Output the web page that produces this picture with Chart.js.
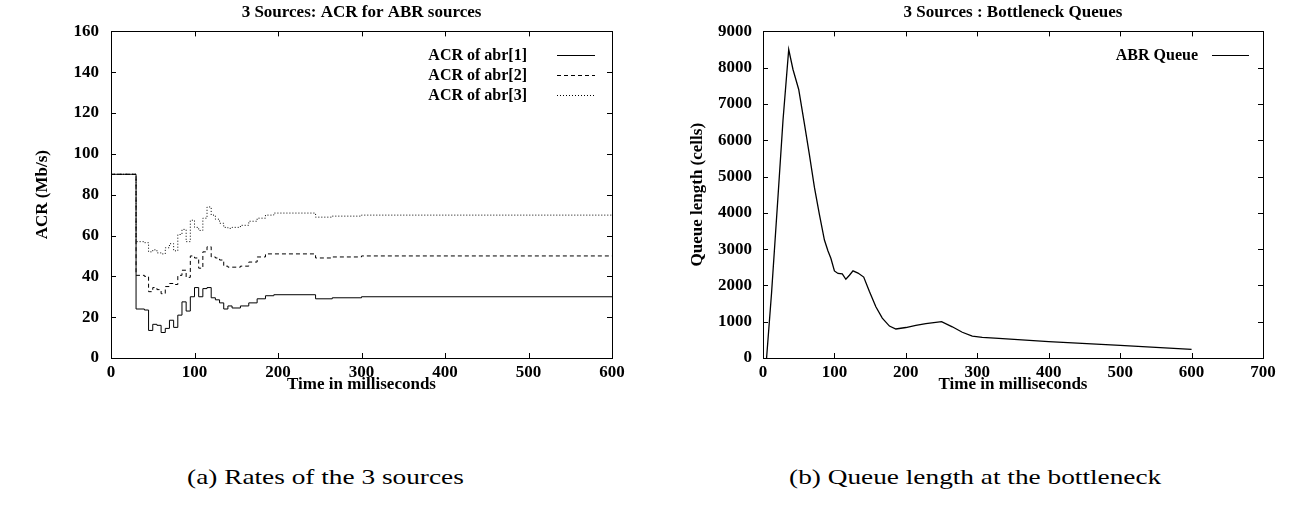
<!DOCTYPE html>
<html>
<head>
<meta charset="utf-8">
<script src="https://cdn.jsdelivr.net/npm/chart.js@4.4.1/dist/chart.umd.min.js"></script>
<style>
  body { margin: 0; background: #fff; width: 1292px; height: 514px; position: relative; overflow: hidden; }
  canvas { position: absolute; top: 0; }
  #acr { left: 0; }
  #queue { left: 646px; }
  .cap { position: absolute; top: 465px; width: 646px; text-align: center; font-family: 'Liberation Serif', serif; font-size: 21px; }
  .cap span { display: inline-block; transform: scaleX(1.3); white-space: nowrap; }
</style>
</head>
<body>
<canvas id="acr" width="646" height="420"></canvas>
<canvas id="queue" width="646" height="420"></canvas>
<div class="cap" style="left:2px"><span>(a) Rates of the 3 sources</span></div>
<div class="cap" style="left:652px"><span>(b) Queue length at the bottleneck</span></div>
<script>
// left chart: ACR of the 3 sources (step plot)
const acrTime = [0, 30, 40, 45, 50, 55, 60, 65, 70, 75, 80, 85, 90, 95, 100, 105, 110, 115, 120, 125, 130, 135, 140, 145, 155, 165, 175, 185, 195, 245, 265, 300, 600];
const acr1 = [90, 24, 23.5, 13.5, 16.5, 16, 12.5, 14.5, 18.5, 15, 21, 27.5, 23, 30, 34.5, 30, 34, 34.5, 29.5, 28.5, 27, 24, 25.5, 24.5, 25.5, 27, 29, 30.5, 31, 29, 29.5, 30, 30];
const acr2 = [90, 40.5, 40, 32.5, 34.5, 33.5, 31.5, 35, 36.5, 36, 40.5, 43, 39.5, 50, 49, 44, 52, 54.5, 49.5, 49, 48, 45, 44.5, 44.5, 45, 47, 49.5, 51, 51, 49, 49.5, 50, 50];
const acr3 = [90, 57, 56.5, 52, 53, 51.5, 51, 54, 56, 52.5, 60.5, 63, 57, 67.5, 64, 62.5, 68.5, 74, 70, 68, 66, 64, 63.5, 64, 65, 67, 68.5, 70, 71, 69, 69.5, 70, 70];
const acrLabels = ['ACR of abr[1]', 'ACR of abr[2]', 'ACR of abr[3]'];

// right chart: bottleneck queue
const qTime = [5, 12, 21, 28, 36, 42, 50, 58, 65, 72, 79, 86, 91, 95, 100, 105, 111, 116, 121, 126, 133, 141, 149, 158, 167, 177, 186, 200, 214, 228, 250, 265, 279, 293, 307, 330, 400, 500, 600];
const qLen = [0, 1800, 4450, 6550, 8500, 7950, 7400, 6450, 5600, 4700, 3950, 3250, 2950, 2750, 2400, 2330, 2320, 2170, 2280, 2400, 2340, 2230, 1830, 1410, 1100, 880, 800, 840, 900, 950, 1000, 860, 710, 600, 570, 540, 450, 350, 240];

const FONT = "'Liberation Serif', 'Times New Roman', serif";
Chart.defaults.font.family = FONT;
Chart.defaults.font.weight = 'bold';
Chart.defaults.color = '#000';
const bold = size => ({family: FONT, size: size, weight: 'bold'});

const pts = (xs, ys) => xs.map((x, i) => ({x: x, y: ys[i]}));

// gnuplot style box with inward ticks on all four sides
const frame = {
  id: 'frame',
  afterDatasetsDraw(chart) {
    const {ctx, chartArea: a, scales} = chart;
    ctx.save();
    ctx.strokeStyle = '#000';
    ctx.lineWidth = 1;
    ctx.strokeRect(Math.round(a.left) + .5, Math.round(a.top) + .5, Math.round(a.width), Math.round(a.height));
    ctx.beginPath();
    scales.x.ticks.forEach((t, i) => {
      const px = Math.round(scales.x.getPixelForTick(i)) + .5;
      ctx.moveTo(px, a.bottom); ctx.lineTo(px, a.bottom - 5);
      ctx.moveTo(px, a.top); ctx.lineTo(px, a.top + 5);
    });
    scales.y.ticks.forEach((t, i) => {
      const py = Math.round(scales.y.getPixelForTick(i)) + .5;
      ctx.moveTo(a.left, py); ctx.lineTo(a.left + 5, py);
      ctx.moveTo(a.right, py); ctx.lineTo(a.right - 5, py);
    });
    ctx.stroke();
    ctx.restore();
  }
};

// key in the top right corner: text right aligned, sample line after it
const gpLegend = {
  id: 'gpLegend',
  afterDraw(chart, args, o) {
    const {ctx, chartArea: a} = chart;
    ctx.save();
    ctx.font = 'bold 16px ' + FONT;
    ctx.textAlign = 'right';
    ctx.textBaseline = 'middle';
    ctx.fillStyle = '#000';
    chart.data.datasets.forEach((ds, i) => {
      const y = a.top + o.top + i * 20;
      ctx.fillText(ds.label, a.right - o.textRight, y);
      ctx.beginPath();
      ctx.setLineDash(ds.borderDash || []);
      ctx.lineWidth = 1;
      ctx.moveTo(a.right - o.lineFrom, Math.round(y) + .5);
      ctx.lineTo(a.right - o.lineTo, Math.round(y) + .5);
      ctx.stroke();
    });
    ctx.restore();
  }
};

function makeChart(id, cfg) {
  return new Chart(document.getElementById(id), {
    type: 'line',
    data: {datasets: cfg.datasets},
    plugins: [frame, gpLegend],
    options: {
      responsive: false,
      animation: false,
      layout: {padding: {left: 0, right: cfg.padRight, top: 0, bottom: 20}},
      elements: {point: {radius: 0}},
      plugins: {
        legend: {display: false},
        tooltip: {enabled: false},
        title: {display: true, text: cfg.title, fullSize: false, font: bold(17), padding: {top: 2, bottom: 9}},
        gpLegend: cfg.key
      },
      scales: {
        x: {
          type: 'linear', min: cfg.xMax[0], max: cfg.xMax[1],
          ticks: {stepSize: 100, padding: 4, font: bold(17), maxRotation: 0, callback: v => String(v)},
          grid: {display: false, drawTicks: false},
          border: {display: false},
          title: {display: true, text: 'Time in milliseconds', font: bold(17), padding: {top: 0, bottom: 5}},
          afterFit: s => { s.height = 42; }
        },
        y: {
          min: 0, max: cfg.yMax,
          ticks: {stepSize: cfg.yStep, padding: cfg.yPad, font: bold(17), callback: v => String(v)},
          grid: {display: false, drawTicks: false},
          border: {display: false},
          title: {display: true, text: cfg.yTitle, font: bold(17), padding: {top: cfg.yTitlePad, bottom: 0}},
          afterFit: s => { s.width = cfg.yWidth; }
        }
      }
    }
  });
}

makeChart('acr', {
  title: '3 Sources: ACR for ABR sources',
  yTitle: 'ACR (Mb/s)',
  datasets: [
    {label: acrLabels[0], data: pts(acrTime, acr1), stepped: true, borderColor: '#000', borderWidth: 1, borderDash: []},
    {label: acrLabels[1], data: pts(acrTime, acr2), stepped: true, borderColor: '#000', borderWidth: 1, borderDash: [4, 3]},
    {label: acrLabels[2], data: pts(acrTime, acr3), stepped: true, borderColor: '#000', borderWidth: 1, borderDash: [1, 2]}
  ],
  xMax: [0, 600], yMax: 160, yStep: 20,
  yWidth: 111, yPad: 12, yTitlePad: 32, padRight: 34,
  key: {top: 24, textRight: 85, lineFrom: 55, lineTo: 17}
});

makeChart('queue', {
  title: '3 Sources : Bottleneck Queues',
  yTitle: 'Queue length (cells)',
  datasets: [
    {label: 'ABR Queue', data: pts(qTime, qLen), borderColor: '#000', borderWidth: 1.3, tension: 0}
  ],
  xMax: [0, 700], yMax: 9000, yStep: 1000,
  yWidth: 117, yPad: 11, yTitlePad: 41, padRight: 29,
  key: {top: 24, textRight: 65, lineFrom: 51, lineTo: 14}
});
</script>
</body>
</html>
